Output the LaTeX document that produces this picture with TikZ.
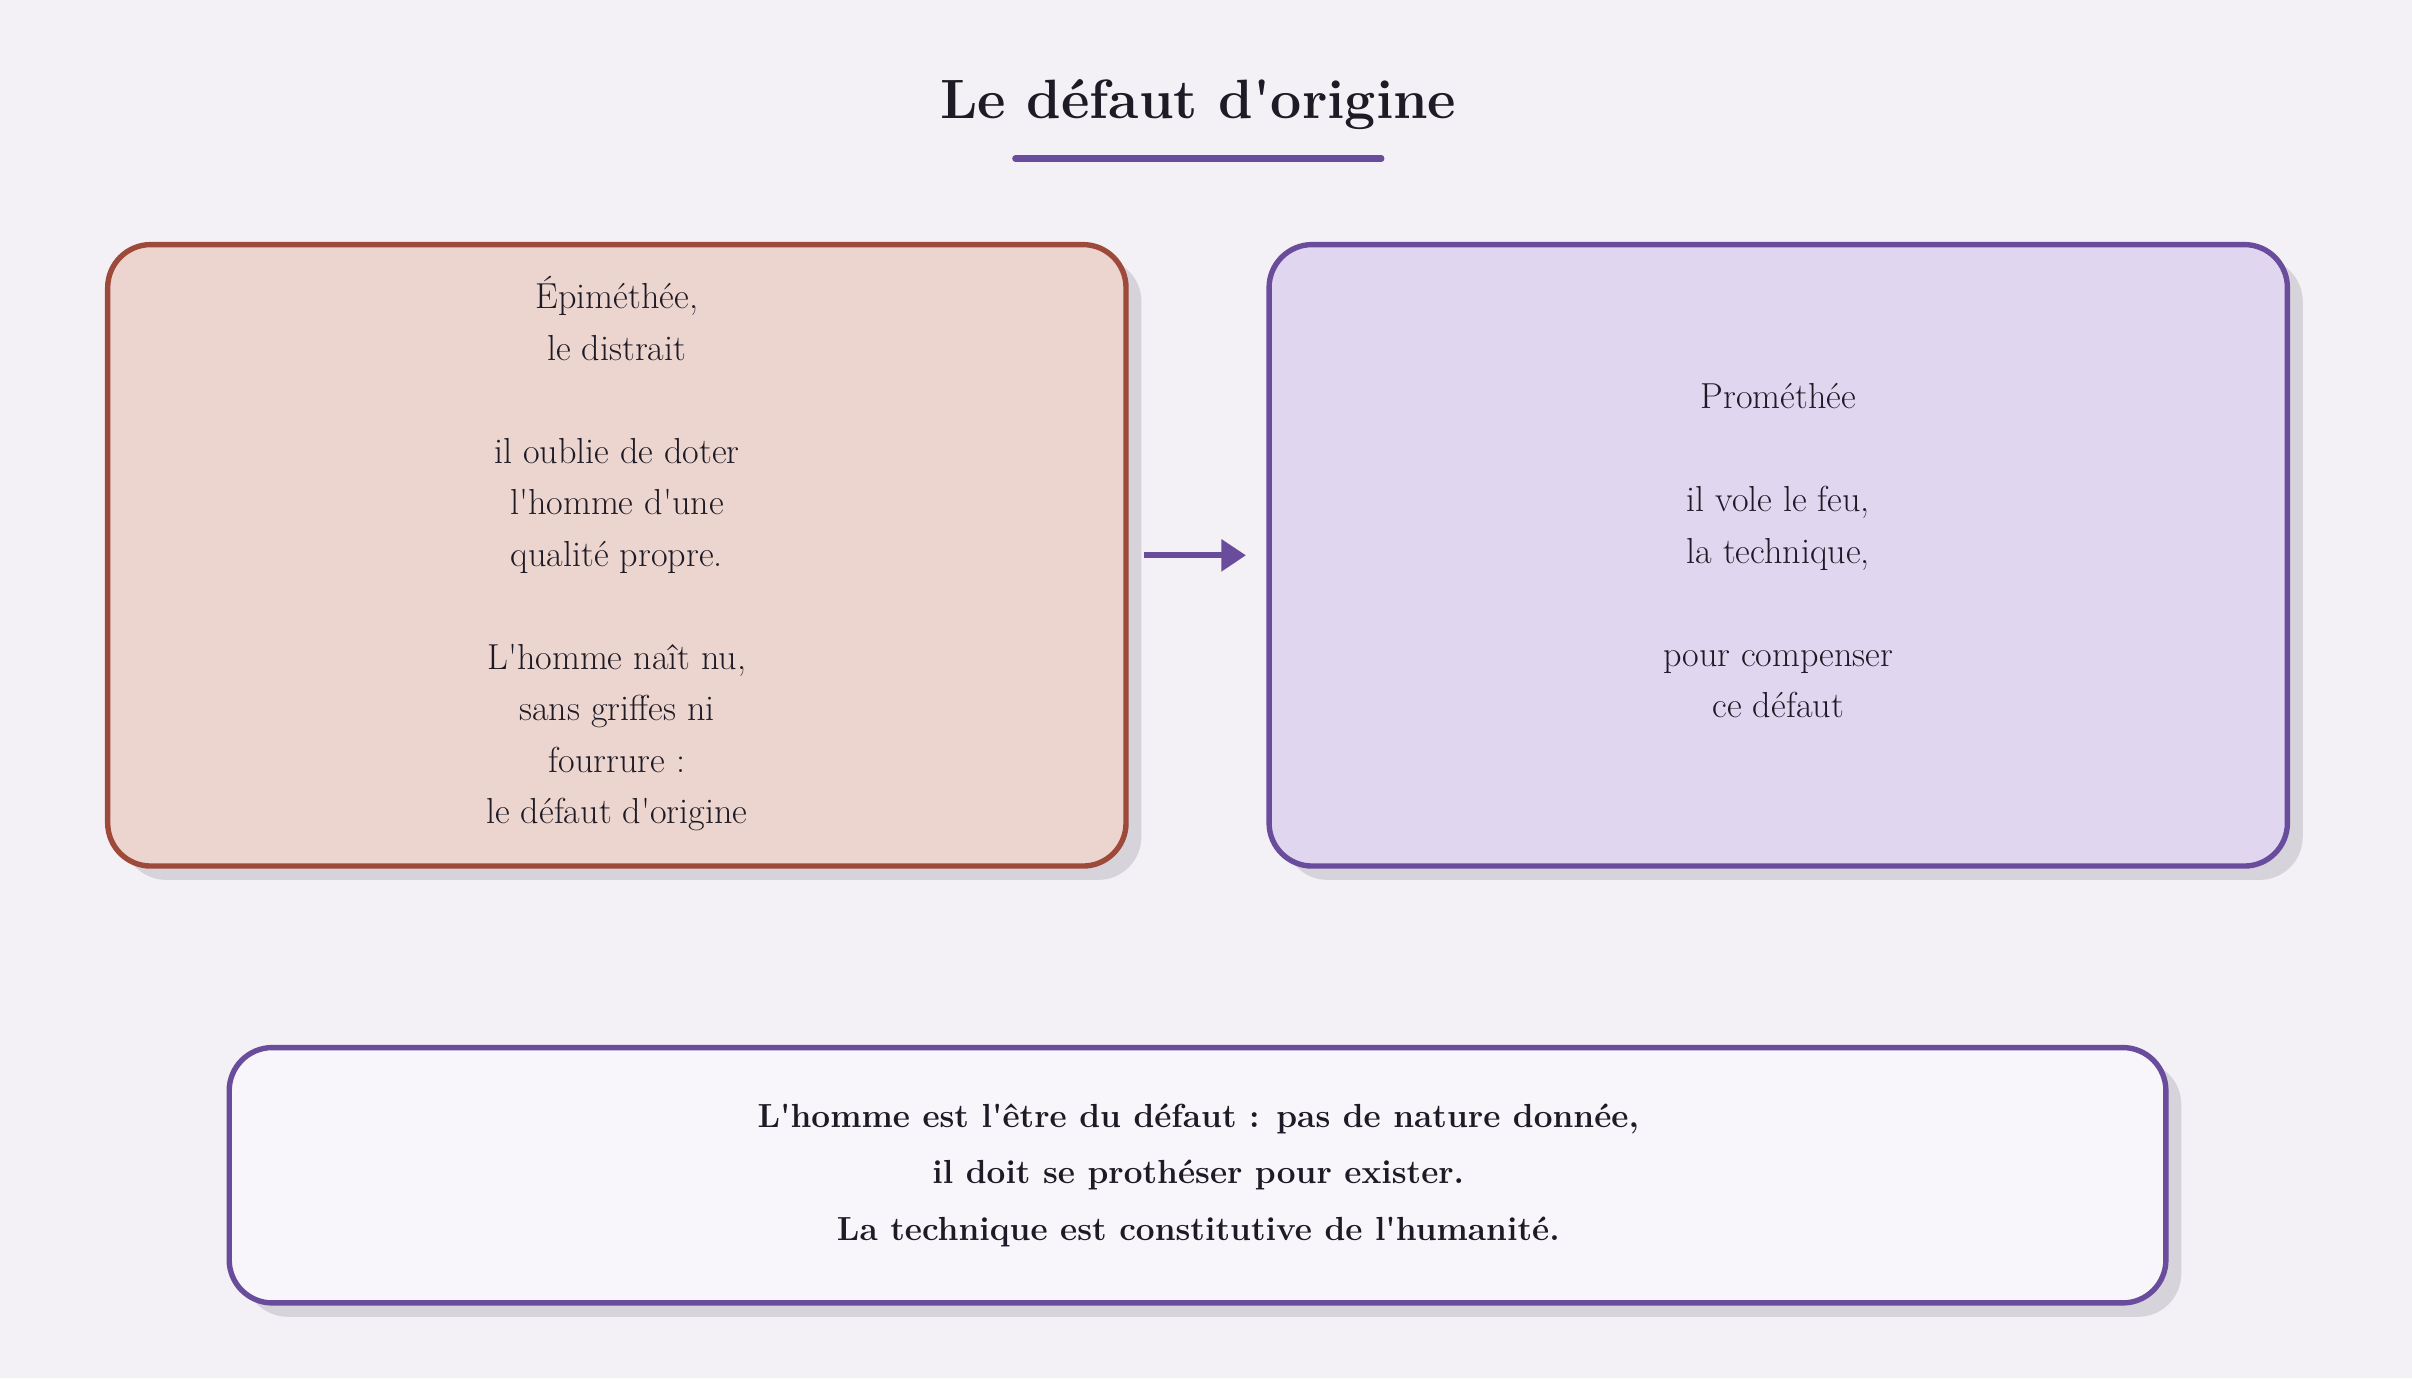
\documentclass[tikz,border=0pt]{standalone}
\usetikzlibrary{arrows.meta}
\usepackage{textcomp}
\newcommand{\q}{\textquotesingle}
\definecolor{bg}{HTML}{F3F1F5}
\definecolor{redb}{HTML}{9E4A3A}
\definecolor{redf}{HTML}{EDD5CF}
\definecolor{purb}{HTML}{6A4C9C}
\definecolor{purf}{HTML}{E1D6EF}
\definecolor{whf}{HTML}{F8F6FA}
\definecolor{shad}{HTML}{D6D3DA}
\definecolor{txt}{HTML}{1E1B26}
\tikzset{
  card/.style={rounded corners=28pt, line width=3.5pt},
  shadowbox/.style={fill=shad, rounded corners=28pt},
  body/.style={text=txt, align=center, font=\fontsize{23.5}{33.5}\selectfont},
}
\begin{document}
\begin{tikzpicture}[x=1pt,y=-1pt]
\fill[bg] (0,0) rectangle (1568,896);
\useasboundingbox (0,0) rectangle (1568,896);
\node[text=txt, font=\bfseries\fontsize{36}{44}\selectfont] (title) at (779,68) {Le défaut d\q origine};
\coordinate (ul1) at (660,103); \coordinate (ul2) at (898,103);
\draw[purb, line width=4pt, line cap=round] (ul1) -- (ul2);
\fill[shadowbox] (80,168) rectangle (742,572);
\fill[shadowbox] (835,168) rectangle (1497,572);
\fill[shadowbox] (159,690) rectangle (1418,856);
\draw[card, draw=redb, fill=redf] (70,159) rectangle (732,563);
\draw[card, draw=purb, fill=purf] (825,159) rectangle (1487,563);
\draw[card, draw=purb, fill=whf] (149,681) rectangle (1408,847);
\node[body] (left) at (401,360) {Épiméthée,\\le distrait\\[33.5pt]il oublie de doter\\l\q homme d\q une\\qualité propre.\\[33.5pt]L\q homme naît nu,\\sans griffes ni\\fourrure :\\le défaut d\q origine};
\node[body] (right) at (1156,358) {Prométhée\\[33.5pt]il vole le feu,\\la technique,\\[33.5pt]pour compenser\\ce défaut};
\node[text=txt, align=center, font=\bfseries\fontsize{21.7}{36.5}\selectfont] (bottom) at (779,764) {L\q homme est l\q être du défaut : pas de nature donnée,\\il doit se prothéser pour exister.\\La technique est constitutive de l\q humanité.};
\coordinate (a1) at (744,361); \coordinate (a2) at (810,361);
\draw[purb, line width=4pt, -{Triangle[length=16pt,width=20pt]}] (a1) -- (a2);
\end{tikzpicture}
\end{document}
